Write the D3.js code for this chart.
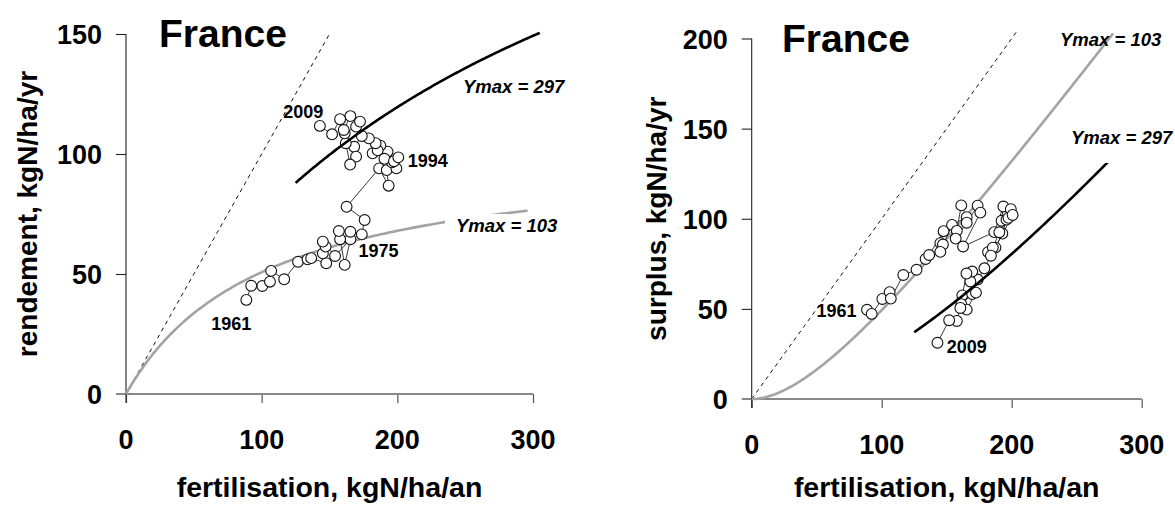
<!DOCTYPE html>
<html>
<head>
<meta charset="utf-8">
<script src="https://cdn.jsdelivr.net/npm/d3@7"></script>
<style>
  html, body { margin: 0; padding: 0; background: #fff; }
  svg { display: block; font-family: "Liberation Sans", Arial, sans-serif; }
</style>
</head>
<body>
<svg id="chart" width="1175" height="506"></svg>
<script>
// France, 1961-2009: N fertilisation, crop yield (rendement) and N surplus, kgN/ha
const years = [1961, 1962, 1963, 1964, 1965, 1966, 1967, 1968, 1969, 1970,
  1971, 1972, 1973, 1974, 1975, 1976, 1977, 1978, 1979, 1980,
  1981, 1982, 1983, 1984, 1985, 1986, 1987, 1988, 1989, 1990,
  1991, 1992, 1993, 1994, 1995, 1996, 1997, 1998, 1999, 2000,
  2001, 2002, 2003, 2004, 2005, 2006, 2007, 2008, 2009];

const fertilisation = [88.7, 92.3, 100.5, 106.1, 107.0, 116.6, 126.8, 133.8, 136.5, 147.6,
  145.1, 147.1, 145.1, 154.1, 165.4, 161.2, 157.8, 156.9, 165.4, 173.8,
  175.9, 162.6, 186.6, 193.6, 192.2, 199.3, 196.0, 192.8, 187.5, 181.8,
  185.5, 190.5, 197.5, 200.7, 184.0, 179.0, 173.8, 168.2, 169.6, 165.2,
  162.0, 161.2, 169.6, 172.5, 165.4, 160.5, 157.8, 151.9, 142.9];

const rendement = [39.2, 45.1, 45.0, 46.8, 51.3, 47.8, 55.1, 56.1, 56.6, 54.5,
  58.6, 61.4, 63.5, 57.5, 64.5, 53.8, 64.5, 67.9, 67.6, 66.5,
  72.5, 78.0, 94.0, 86.8, 93.3, 94.0, 96.5, 101.0, 103.5, 100.3,
  101.5, 98.0, 97.0, 98.6, 104.5, 106.5, 107.5, 103.0, 98.9, 95.6,
  104.5, 108.6, 111.4, 113.5, 115.8, 110.0, 114.5, 108.2, 111.7];

const surplus = [49.5, 47.2, 55.5, 59.3, 55.7, 68.8, 71.7, 77.7, 79.9, 93.1,
  86.5, 85.7, 81.6, 96.6, 100.9, 107.4, 93.3, 89.0, 97.8, 107.3,
  103.4, 84.6, 92.6, 106.8, 98.9, 105.3, 99.5, 91.8, 84.0, 81.5,
  84.0, 92.5, 100.5, 102.1, 79.5, 72.5, 66.3, 65.2, 70.7, 69.6,
  57.5, 52.6, 58.2, 59.0, 49.6, 50.5, 43.3, 43.7, 31.2];

// Yield response curves Y = Ymax·F/(F+Ymax) for the two periods
const ymaxValues = [103, 297];
const xTicks = [0, 100, 200, 300];
const yTicksRendement = [0, 50, 100, 150];
const yTicksSurplus = [0, 50, 100, 150, 200];

const svg = d3.select("#chart");
const FONT = '"Liberation Sans", Arial, sans-serif';

const pts = years.map((yr, i) => ({
  year: yr, f: fertilisation[i], y: rendement[i], s: surplus[i]
}));

function drawPanel(cfg) {
  const g = svg.append("g");
  const x = d3.scaleLinear().domain([0, 300]).range(cfg.xRange);
  const y = d3.scaleLinear().domain(cfg.yDomain).range(cfg.yRange);

  // x axis (grey)
  const xAxis = g.append("g").attr("transform", `translate(0,${y(0)})`)
    .call(d3.axisBottom(x).tickValues(xTicks).tickSize(9).tickSizeOuter(0).tickFormat(""));
  xAxis.select(".domain").remove();
  xAxis.selectAll(".tick line").attr("stroke", "#555").attr("stroke-width", 1.2);
  g.append("line")
    .attr("x1", x(0) - 10).attr("x2", x(300))
    .attr("y1", y(0)).attr("y2", y(0))
    .attr("stroke", "#888").attr("stroke-width", 2);

  // y axis (dark)
  const yAxis = g.append("g").attr("transform", `translate(${x(0)},0)`)
    .call(d3.axisLeft(y).tickValues(cfg.yTicks.filter(v => v > 0)).tickSize(10).tickSizeOuter(0).tickFormat(""));
  yAxis.select(".domain").remove();
  yAxis.selectAll(".tick line").attr("stroke", "#222").attr("stroke-width", 1.1);
  g.append("line")
    .attr("x1", x(0)).attr("x2", x(0))
    .attr("y1", y(cfg.yDomain[1])).attr("y2", y(0) + 9)
    .attr("stroke", "#222").attr("stroke-width", 1.1);

  // tick labels
  g.selectAll(".xl").data(xTicks).join("text")
    .attr("x", d => x(d)).attr("y", y(0) + 55)
    .attr("text-anchor", "middle")
    .attr("font-size", 27).attr("font-weight", "bold").attr("font-family", FONT)
    .text(d => d);
  g.selectAll(".yl").data(cfg.yTicks).join("text")
    .attr("x", x(0) - 24).attr("y", d => y(d) + 10)
    .attr("text-anchor", "end")
    .attr("font-size", 27).attr("font-weight", "bold").attr("font-family", FONT)
    .text(d => d);

  // axis titles
  g.append("text")
    .attr("x", (x(0) + x(300)) / 2).attr("y", 497)
    .attr("text-anchor", "middle")
    .attr("font-size", 28.5).attr("font-weight", "bold").attr("font-family", FONT)
    .text("fertilisation, kgN/ha/an");
  g.append("text")
    .attr("transform", `translate(${cfg.yTitleX},${(y(0) + y(cfg.yDomain[1])) / 2}) rotate(-90)`)
    .attr("text-anchor", "middle")
    .attr("font-size", 28).attr("font-weight", "bold").attr("font-family", FONT)
    .text(cfg.yTitle);

  // panel title
  g.append("text")
    .attr("x", cfg.titleX).attr("y", cfg.titleY)
    .attr("font-size", 39).attr("font-weight", "bold").attr("font-family", FONT)
    .text("France");

  const line = d3.line().x(d => x(d[0])).y(d => y(d[1]));

  // 1:1 line
  g.append("path")
    .datum([[0, 0], [cfg.diagEnd, cfg.diagEnd]])
    .attr("d", line)
    .attr("fill", "none").attr("stroke", "#111").attr("stroke-width", 1)
    .attr("stroke-dasharray", "4,4");

  // response curves
  const curve = (ymax, f0, f1) => d3.range(f0, f1 + 0.001, 1).map(f => [f, cfg.model(f, ymax)]);
  g.append("path")
    .datum(curve(ymaxValues[0], 0, cfg.greyEnd))
    .attr("d", line)
    .attr("fill", "none").attr("stroke", "#a3a3a3").attr("stroke-width", 2.6);

  // trajectory
  g.append("path")
    .datum(pts.map(p => [p.f, cfg.val(p)]))
    .attr("d", line)
    .attr("fill", "none").attr("stroke", "#222").attr("stroke-width", 0.9);
  g.selectAll("circle").data(pts).join("circle")
    .attr("cx", d => x(d.f)).attr("cy", d => y(cfg.val(d)))
    .attr("r", 5.4)
    .attr("fill", "#fff").attr("stroke", "#111").attr("stroke-width", 1.1);

  g.append("path")
    .datum(curve(ymaxValues[1], 125, 305))
    .attr("d", line)
    .attr("fill", "none").attr("stroke", "#000").attr("stroke-width", 2.6);

  // Ymax labels
  cfg.ymaxLabels.forEach(lb => {
    const t = g.append("text")
      .attr("x", lb.x).attr("y", lb.y)
      .attr("font-size", 18.5).attr("font-weight", "bold").attr("font-style", "italic")
      .attr("font-family", FONT)
      .text(`Ymax = ${ymaxValues[lb.i]}`);
    if (lb.pad) {
      const b = t.node().getBBox();
      g.insert("rect", () => t.node())
        .attr("x", b.x - lb.pad[3]).attr("y", b.y - lb.pad[0])
        .attr("width", b.width + lb.pad[1] + lb.pad[3])
        .attr("height", b.height + lb.pad[0] + lb.pad[2])
        .attr("fill", "#fff");
      t.raise();
    }
  });

  // year labels
  cfg.yearLabels.forEach(lb => {
    const p = pts.find(d => d.year === lb.year);
    g.append("text")
      .attr("x", x(p.f) + lb.dx).attr("y", y(cfg.val(p)) + lb.dy)
      .attr("text-anchor", lb.anchor)
      .attr("font-size", 18).attr("font-weight", "bold").attr("font-family", FONT)
      .text(p.year);
  });
}

drawPanel({
  xRange: [126, 533], yDomain: [0, 150], yRange: [394, 34],
  yTicks: yTicksRendement,
  yTitle: "rendement, kgN/ha/yr", yTitleX: 37,
  titleX: 159, titleY: 47,
  diagEnd: 150.5, greyEnd: 296,
  model: (f, ymax) => ymax * f / (f + ymax),
  val: p => p.y,
  ymaxLabels: [
    { i: 1, x: 463, y: 93 },
    { i: 0, x: 456, y: 232, pad: [1, -50, 4, 11] }
  ],
  yearLabels: [
    { year: 1961, dx: -35, dy: 30, anchor: "start" },
    { year: 1975, dx: 8, dy: 17.5, anchor: "start" },
    { year: 1994, dx: 9.5, dy: 9.6, anchor: "start" },
    { year: 2009, dx: 3.5, dy: -7.6, anchor: "end" }
  ]
});

drawPanel({
  xRange: [751.7, 1141.7], yDomain: [0, 200], yRange: [399, 38.5],
  yTicks: yTicksSurplus,
  yTitle: "surplus, kgN/ha/yr", yTitleX: 666,
  titleX: 782, titleY: 52,
  diagEnd: 204, greyEnd: 278,
  model: (f, ymax) => f - ymax * f / (f + ymax),
  val: p => p.s,
  ymaxLabels: [
    { i: 0, x: 1060, y: 45.5 },
    { i: 1, x: 1071, y: 144, pad: [12, 4, 15, 6] }
  ],
  yearLabels: [
    { year: 1961, dx: -10.5, dy: 7.2, anchor: "end" },
    { year: 2009, dx: 9.2, dy: 10.5, anchor: "start" }
  ]
});
</script>
</body>
</html>
